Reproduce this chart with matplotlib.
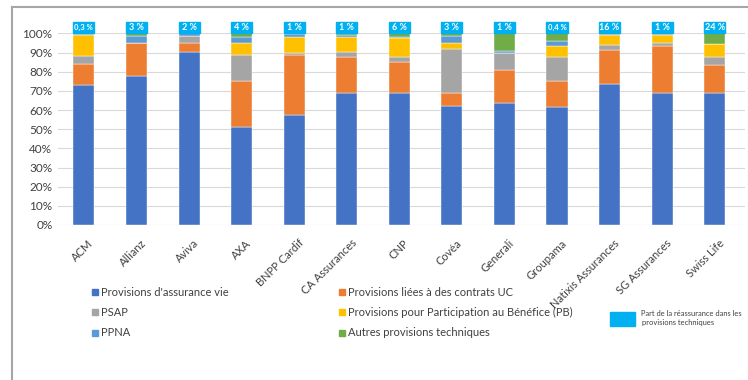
import numpy as np
import matplotlib.pyplot as plt
import matplotlib.transforms as mtransforms
from matplotlib.patches import Rectangle

plt.rcParams['font.family'] = ['Lato', 'DejaVu Sans']

companies = ['ACM', 'Allianz', 'Aviva', 'AXA', 'BNPP Cardif', 'CA Assurances', 'CNP',
             'Covéa', 'Generali', 'Groupama', 'Natixis Assurances', 'SG Assurances', 'Swiss Life']

# shares (%) of each provision type
vie = [73.0, 77.7, 90.4, 51.3, 57.4, 69.0, 69.0, 62.3, 63.5, 61.4, 73.6, 69.0, 69.0]
uc = [11.3, 17.1, 4.4, 23.8, 31.3, 18.8, 16.2, 6.4, 17.4, 13.7, 17.7, 24.6, 14.3]
psap = [3.9, 0.0, 3.8, 13.6, 0.9, 2.6, 2.6, 23.0, 8.7, 12.4, 2.6, 1.5, 4.2]
pb = [10.9, 0.0, 0.0, 6.1, 8.3, 7.9, 9.6, 3.1, 0.0, 6.2, 5.2, 4.2, 6.8]
ppna = [0.7, 3.7, 1.4, 3.1, 1.6, 1.0, 0.5, 3.8, 1.2, 2.1, 0.5, 0.4, 0.2]
autres = [0.2, 1.5, 0.0, 2.1, 0.5, 0.7, 2.1, 1.4, 9.2, 4.2, 0.4, 0.3, 5.7]
reass = ['0,3 %', '3 %', '2 %', '4 %', '1 %', '1 %', '6 %', '3 %', '1 %', '0,4 %', '16 %', '1 %', '24 %']

series = [
    ("Provisions d'assurance vie", vie, '#4472C4'),
    ('Provisions liées à des contrats UC', uc, '#ED7D31'),
    ('PSAP', psap, '#A5A5A5'),
    ('Provisions pour Participation au Bénéfice (PB)', pb, '#FFC000'),
    ('PPNA', ppna, '#5B9BD5'),
    ('Autres provisions techniques', autres, '#70AD47'),
]
reass_color = '#00B0F0'

fig = plt.figure(figsize=(7.48, 3.8), dpi=100)
ax = fig.add_axes([0.0775, 0.408, 0.918, 0.504])

x = np.arange(len(companies))
w = 0.40
bottom = np.zeros(len(companies))
for name, vals, col in series:
    v = np.array(vals) / 100
    ax.bar(x, v, w, bottom=bottom, color=col, edgecolor='white', linewidth=0.3, zorder=3)
    bottom += v

# reinsurance share boxes above the bars
for xi, lab in zip(x, reass):
    ax.add_patch(Rectangle((xi - w / 2, 1.003), w, 0.055, color=reass_color,
                           clip_on=False, zorder=4))
    ax.text(xi, 1.03, lab, ha='center', va='center', color='white',
            fontsize=5.5 if ',' in lab else 6.5, fontweight='bold', zorder=5, clip_on=False)

ax.set_ylim(0, 1.0)
ax.set_xlim(-0.494, 12.57)
ax.set_yticks(np.arange(0, 1.01, 0.1))
ax.set_yticklabels([f'{int(round(t * 100))}%' for t in np.arange(0, 1.01, 0.1)],
                   fontsize=8.5, color='#404040')
ax.set_xticks(x)
ax.set_xticklabels(companies, rotation=45, ha='right', rotation_mode='anchor',
                   fontsize=8, color='#404040')
ax.tick_params(axis='y', length=0, pad=4)
ax.tick_params(axis='x', length=0, pad=9)
offset = mtransforms.ScaledTranslation(4 / 100, 0, fig.dpi_scale_trans)
for lbl in ax.get_xticklabels():
    lbl.set_transform(lbl.get_transform() + offset)
ax.yaxis.grid(True, color='#D9D9D9', linewidth=0.8, zorder=0)
for s in ax.spines.values():
    s.set_visible(False)

# outer frame (top and left edges visible)
fig.add_artist(plt.Line2D([12 / 748, 1], [1 - 7 / 380, 1 - 7 / 380], color='#A6A6A6', lw=1.5,
                          transform=fig.transFigure))
fig.add_artist(plt.Line2D([12 / 748, 12 / 748], [0, 1 - 7 / 380], color='#A6A6A6', lw=1.5,
                          transform=fig.transFigure))

# legend
cols = [92, 339]
rows = [292, 312, 333]
for i, (name, vals, col) in enumerate(series):
    cx = cols[i % 2]
    cy = rows[i // 2]
    fig.add_artist(Rectangle((cx / 748, 1 - (cy + 3) / 380), 6 / 748, 6 / 380, color=col,
                             transform=fig.transFigure))
    fig.text((cx + 9) / 748, 1 - cy / 380, name, fontsize=8, va='center', color='#404040')

fig.add_artist(Rectangle((610 / 748, 1 - 326 / 380), 25 / 748, 14 / 380, color=reass_color,
                         transform=fig.transFigure))
fig.text(641 / 748, 1 - 313 / 380, 'Part de la réassurance dans les', fontsize=5.4,
         va='center', color='#404040')
fig.text(642 / 748, 1 - 323 / 380, 'provisions techniques', fontsize=5.4,
         va='center', color='#404040')

fig.savefig('out.png', dpi=100)
